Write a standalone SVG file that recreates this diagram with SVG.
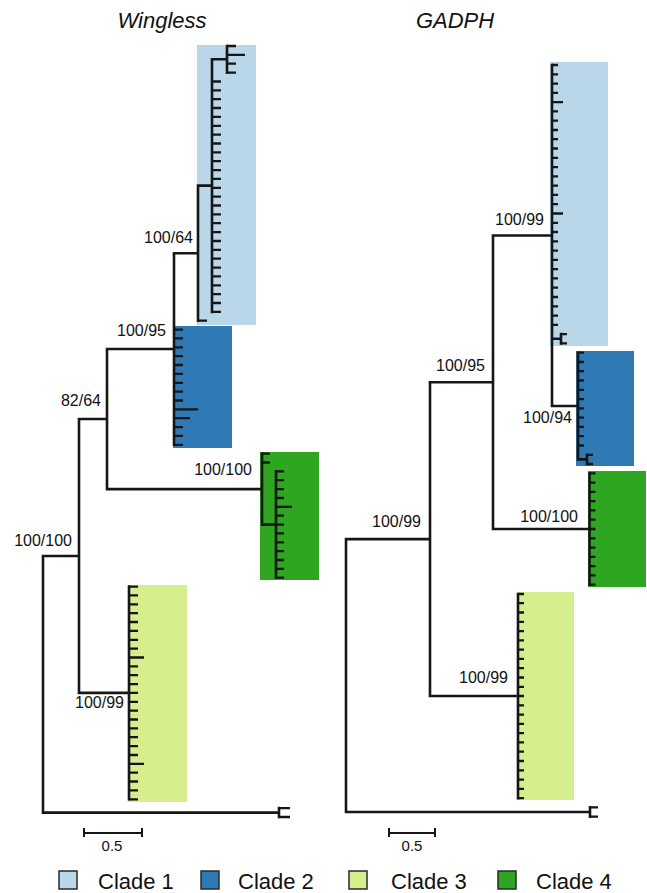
<svg xmlns="http://www.w3.org/2000/svg" width="647" height="893" viewBox="0 0 647 893">
<style>
.br{fill:none;stroke:#161616;stroke-width:2.6;stroke-linecap:square}
.tk{fill:none;stroke:#161616;stroke-width:2.3;stroke-linecap:butt}
.lb{font-family:"Liberation Sans",Arial,sans-serif;font-size:16px;fill:#111;text-anchor:end}
.tt{font-family:"Liberation Sans",Arial,sans-serif;font-size:22px;font-style:italic;fill:#111;text-anchor:middle}
.sc{font-family:"Liberation Sans",Arial,sans-serif;font-size:15px;fill:#111;text-anchor:middle}
.lg{font-family:"Liberation Sans",Arial,sans-serif;font-size:22px;fill:#111}
.c1{fill:#b9d7e8}.c2{fill:#2f79b5}.c3{fill:#d6ee8d}.c4{fill:#2ea621}
.sq{stroke:#2a2a2a;stroke-width:1.5}
</style>
<rect width="647" height="893" fill="#fff"/>
<text class="tt" x="162" y="28">Wingless</text>
<text class="tt" x="455" y="28">GADPH</text>

<g id="wingless-clades">
<g id="w-clade1"><rect class="c1" x="197" y="45" width="59" height="280"/></g>
<g id="w-clade2"><rect class="c2" x="173" y="326" width="59" height="122"/></g>
<g id="w-clade4"><rect class="c4" x="260" y="452" width="59" height="128"/></g>
<g id="w-clade3"><rect class="c3" x="128" y="585" width="59" height="217"/></g>
</g>
<g id="gadph-clades">
<g id="g-clade1"><rect class="c1" x="550" y="62" width="58" height="284"/></g>
<g id="g-clade2"><rect class="c2" x="576" y="351" width="58" height="115"/></g>
<g id="g-clade4"><rect class="c4" x="588" y="471" width="58" height="116"/></g>
<g id="g-clade3"><rect class="c3" x="517" y="592" width="57" height="208"/></g>
</g>

<g id="connectors">
<g id="wingless-tree">
<path class="tk" d="M227 46H236M227 54.9H245M227 63.7H236M227 72.6H236
M212 81.5H221M212 90.3H221M212 99.2H221M212 108H221M212 116.9H221M212 125.8H221M212 134.6H221M212 143.5H221M212 152.3H221M212 161.2H221M212 170.1H221M212 178.9H221M212 187.8H221M212 196.7H221M212 205.5H221M212 214.4H221M212 223.2H221M212 232.1H221M212 241H221M212 249.8H221M212 258.7H221M212 267.6H221M212 276.4H221M212 285.3H221M212 294.1H221M212 303H221M212 311.9H221
M198 320.7H207
M174 329.6H183M174 338.4H183M174 347.3H183M174 356.2H183M174 365H183M174 373.9H183M174 382.8H183M174 391.6H183M174 400.5H183M174 409.3H198M174 418.2H190M174 427.1H183M174 435.9H183M174 444.8H183
M262 453.7H270M262 462.5H270
M276 471.4H284M276 480.2H284M276 489.1H284M276 498H284M276 506.8H292M276 515.7H284M276 524.6H284M276 533.4H284M276 542.3H284M276 551.1H284M276 560H284M276 568.9H284M276 577.7H284
M129 586.6H138M129 595.4H138M129 604.3H138M129 613.2H138M129 622H138M129 630.9H138M129 639.8H138M129 648.6H138M129 657.5H144M129 666.3H138M129 675.2H138M129 684.1H138M129 692.9H138M129 701.8H138M129 710.7H138M129 719.5H138M129 728.4H138M129 737.2H138M129 746.1H138M129 755H138M129 763.8H144M129 772.7H138M129 781.5H138M129 790.4H138M129 799.3H138
M279 808.1H290M279 817H290"/>
<path class="br" d="M227 46V72.6M212 59.3H227M212 59.3V311.9M198 185.6H212M198 185.6V320.7M174 253.2H198M174 253.2V444.8
M107 349H174M107 349V489.1M107 489.1H262M262 453.7V524.6M262 524.6H276M276 471.4V577.7
M79 419H107M79 419V692.9M79 692.9H129M129 586.6V799.3
M43 556H79M43 556V812.6M43 812.6H279M279 808.1V817"/>
</g>
<g id="gadph-tree">
<path class="tk" d="M552 65H558M552 74.3H558M552 83.6H558M552 92.8H558M552 102.1H563M552 111.4H558M552 120.7H558M552 130H558M552 139.2H558M552 148.5H558M552 157.8H558M552 167.1H558M552 176.4H558M552 185.6H558M552 194.9H558M552 204.2H558M552 213.5H563M552 222.8H558M552 232H558M552 241.3H558M552 250.6H558M552 259.9H558M552 269.2H558M552 278.4H558M552 287.7H558M552 297H558M552 306.3H558M552 315.6H558M552 324.8H558
M561 334.1H567M561 343.4H567
M578 352.7H584M578 362H584M578 371.2H584M578 380.5H584M578 389.8H584M578 399.1H584M578 408.4H584M578 417.6H584M578 426.9H584M578 436.2H584M578 445.5H584
M587 454.8H593M587 464H593
M589.5 473.3H595.5M589.5 482.6H595.5M589.5 491.9H595.5M589.5 501.2H595.5M589.5 510.4H595.5M589.5 519.7H595.5M589.5 529H595.5M589.5 538.3H595.5M589.5 547.6H595.5M589.5 556.8H595.5M589.5 566.1H595.5M589.5 575.4H595.5M589.5 584.7H595.5
M518 594H524M518 603.2H524M518 612.5H524M518 621.8H524M518 631.1H524M518 640.4H524M518 649.6H524M518 658.9H524M518 668.2H524M518 677.5H524M518 686.8H524M518 696H524M518 705.3H524M518 714.6H524M518 723.9H524M518 733.2H524M518 742.4H524M518 751.7H524M518 761H524M518 770.3H524M518 779.6H524M518 788.8H524M518 798.1H524
M590 807.4H598M590 816.7H598"/>
<path class="br" d="M552 65V406M552 338.8H561M561 334.1V343.4M552 406H578M578 352.7V459.4M578 459.4H587M587 454.8V464
M493 235.5H552M493 235.5V529M493 529H589.5M589.5 473.3V584.7
M430 382.3H493M430 382.3V696M430 696H518M518 594V798.1
M346 539.1H430M346 539.1V812M346 812H590M590 807.4V816.7"/>
</g>
</g>

<g id="support-labels">
<text class="lb" x="193" y="243">100/64</text>
<text class="lb" x="166" y="336">100/95</text>
<text class="lb" x="101" y="406">82/64</text>
<text class="lb" x="252" y="475">100/100</text>
<text class="lb" x="72" y="546">100/100</text>
<text class="lb" x="124" y="708">100/99</text>
<text class="lb" x="544" y="225">100/99</text>
<text class="lb" x="485" y="371">100/95</text>
<text class="lb" x="572" y="423">100/94</text>
<text class="lb" x="578" y="522">100/100</text>
<text class="lb" x="421" y="527">100/99</text>
<text class="lb" x="508" y="683">100/99</text>
</g>

<g id="scale-bars">
<path class="br" style="stroke-width:2" d="M84 833H142M84 829V836M142 829V836M389 833H435M389 829V836M435 829V836"/>
<text class="sc" x="112" y="851">0.5</text>
<text class="sc" x="412" y="851">0.5</text>
</g>

<g id="legend">
<g id="legend-clade1"><rect class="c1 sq" x="59" y="871" width="18" height="18"/><text class="lg" x="98" y="889">Clade 1</text></g>
<g id="legend-clade2"><rect class="c2 sq" x="201" y="871" width="18" height="18"/><text class="lg" x="238" y="889">Clade 2</text></g>
<g id="legend-clade3"><rect class="c3 sq" x="349" y="871" width="18" height="18"/><text class="lg" x="391" y="889">Clade 3</text></g>
<g id="legend-clade4"><rect class="c4 sq" x="498" y="871" width="18" height="18"/><text class="lg" x="536" y="889">Clade 4</text></g>
</g>
</svg>
